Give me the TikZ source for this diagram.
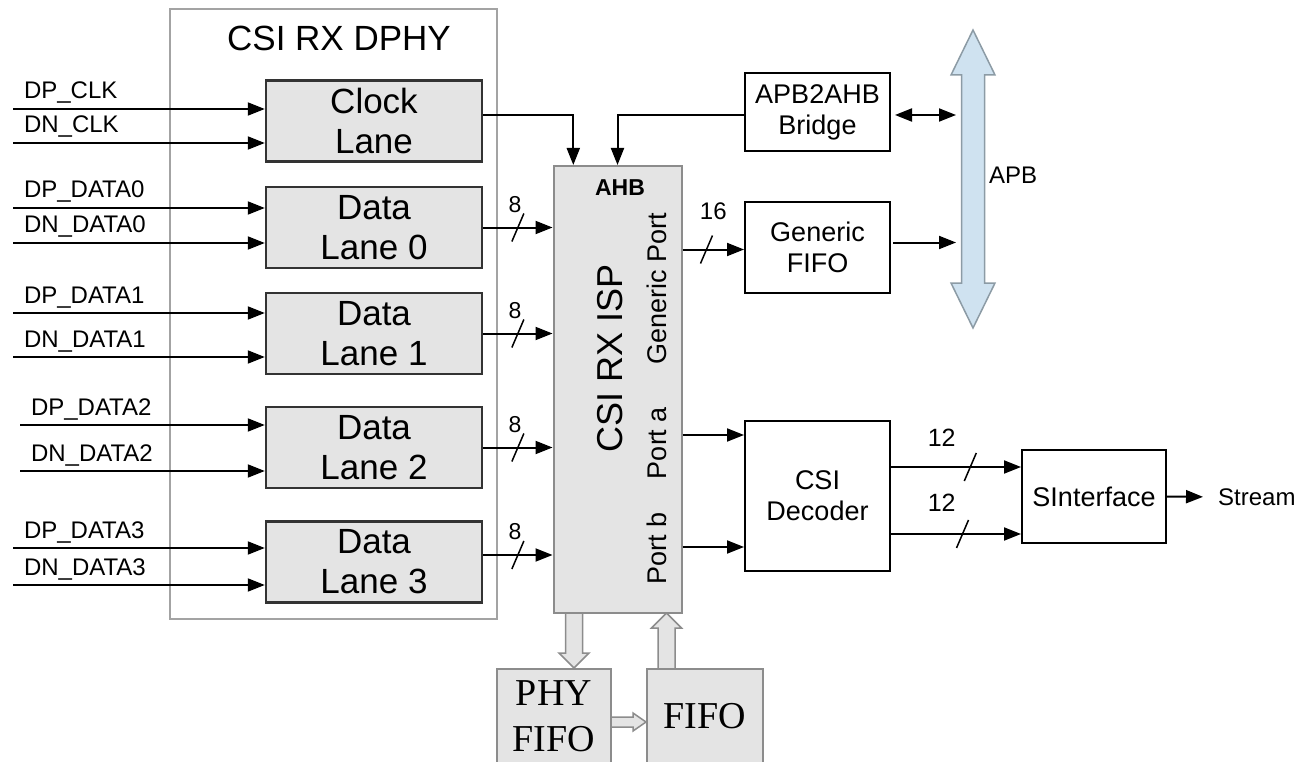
\documentclass[tikz,border=0pt]{standalone}
\usepackage{fontspec}
\setmainfont{Liberation Sans}
\newfontfamily\fifoserif{Liberation Serif}
\usepackage{tikz}
\usetikzlibrary{positioning, arrows.meta, calc, decorations.markings}
\definecolor{apbfill}{RGB}{207,226,240}
\definecolor{apbline}{RGB}{140,155,165}
\definecolor{boxgray}{RGB}{228,228,228}
\definecolor{rimgray}{RGB}{140,140,140}

\begin{document}
\begin{tikzpicture}[
  x=1pt, y=-1pt,
  outer/.style={draw=rimgray!80!white, line width=1.5},
  lane/.style={draw=black!80, fill=boxgray, line width=2.5, minimum width=216, minimum height=81, align=center, inner sep=0, font=\fontsize{35}{40}\selectfont},
  blk/.style={draw, fill=white, line width=2, align=center, inner sep=0, font=\fontsize{27}{31}\selectfont},
  fifo/.style={draw=rimgray, fill=boxgray, line width=2, align=center, inner sep=0, font=\fifoserif\fontsize{38}{46}\selectfont},
  port/.style={rotate=90, inner sep=0, font=\fontsize{27}{30}\selectfont},
  sig/.style={anchor=base west, inner sep=0, xshift=10pt, yshift=10pt, font=\fontsize{24}{26}\selectfont},
  wid/.style={above=#1, inner sep=0, font=\fontsize{23}{25}\selectfont},
  arr/.style={-{Triangle[length=17pt, width=13pt]}, line width=2},
  darr/.style={{Triangle[length=17pt, width=13pt]}-{Triangle[length=17pt, width=13pt]}, line width=2},
  bw/.style={postaction={decorate, decoration={markings, mark=at position #1 with {\draw[-, line width=1.5] (-6pt,-14pt) -- (6pt,14pt);}}}},
  hollow/.style={draw=rimgray, fill=boxgray, line width=1.5, line join=miter},
  bus/.style={draw=apbline, fill=apbfill, line width=1.5}
]
  \useasboundingbox (0,0) rectangle (1314,762);

  % CSI RX DPHY
  \node[outer, minimum width=327, minimum height=610] (dphy) at (333.5,314) {};
  \node[font=\fontsize{35}{40}\selectfont] (dphyt) at (339,38) {CSI RX DPHY};
  \node[lane] (cl) at (374,121) {Clock\\Lane};
  \node[lane] (l0) at (374,227.5) {Data\\Lane 0};
  \node[lane] (l1) at (374,333.5) {Data\\Lane 1};
  \node[lane] (l2) at (374,447.5) {Data\\Lane 2};
  \node[lane] (l3) at (374,562) {Data\\Lane 3};

  % Prazne strelice prema FIFO
  \draw[hollow] (565.5,611) -- (582.5,611) -- (582.5,653) -- (589,653) -- (574,668) -- (559,653) -- (565.5,653) -- cycle;
  \draw[hollow] (658,671) -- (658,628) -- (651.5,628) -- (666.5,613) -- (681.5,628) -- (675,628) -- (675,671) -- cycle;
  \draw[hollow] (609,717) -- (633,717) -- (633,713) -- (646,722) -- (633,731) -- (633,727) -- (609,727) -- cycle;

  % CSI RX ISP
  \node[draw=rimgray, fill=boxgray, line width=2, minimum width=128, minimum height=447] (isp) at (617.5,389.5) {};
  \node[rotate=90, font=\fontsize{36}{40}\selectfont] (ispt) at (610,358) {CSI RX ISP};
  \node[font=\bfseries\fontsize{23}{26}\selectfont] (ahb) at (620,188) {AHB};
  \node[port] (gp) at (657,289) {Generic Port};
  \node[port] (pa) at (657,443) {Port a};
  \node[port] (pb) at (657,548) {Port b};

  % Bloki desno
  \node[blk, minimum width=145, minimum height=78] (br) at (817.5,112) {APB2AHB\\Bridge};
  \node[blk, minimum width=145, minimum height=91] (gf) at (817.5,247.5) {Generic\\FIFO};
  \node[blk, minimum width=145, minimum height=150] (dec) at (817.5,496) {CSI\\Decoder};
  \node[blk, minimum width=144, minimum height=93] (si) at (1094,496.5) {SInterface};
  \node[anchor=west, inner sep=0, font=\fontsize{24}{26}\selectfont] (st) at (1218,497) {Stream};

  % APB sabirnica
  \draw[bus] (973,30) -- (995,75) -- (984.5,75) -- (984.5,283) -- (995,283) -- (973,328)
    -- (951,283) -- (961.5,283) -- (961.5,75) -- (951,75) -- cycle;
  \coordinate (apb) at (973,179);
  \node[font=\fontsize{24}{26}\selectfont] (apbt) at (1013,175) {APB};

  % FIFO dolje
  \node[fifo, minimum width=114, minimum height=94] (phy) at (554,716) {PHY\\FIFO};
  \node[fifo, minimum width=116, minimum height=94] (fifo) at (705,716) {FIFO};

  % Ulazi
  \coordinate (dpclk) at (13,109);
  \coordinate (dnclk) at (13,143);
  \coordinate (dpd0) at (13,208);
  \coordinate (dnd0) at (13,243);
  \coordinate (dpd1) at (13,313);
  \coordinate (dnd1) at (13,357);
  \coordinate (dpd2) at (20,425);
  \coordinate (dnd2) at (20,471);
  \coordinate (dpd3) at (13,548);
  \coordinate (dnd3) at (13,585);
  \draw[arr] (dpclk) -- (dpclk -| cl.west) node[pos=0, sig] {DP\_CLK};
  \draw[arr] (dnclk) -- (dnclk -| cl.west) node[pos=0, sig] {DN\_CLK};
  \draw[arr] (dpd0) -- (dpd0 -| l0.west) node[pos=0, sig] {DP\_DATA0};
  \draw[arr] (dnd0) -- (dnd0 -| l0.west) node[pos=0, sig] {DN\_DATA0};
  \draw[arr] (dpd1) -- (dpd1 -| l1.west) node[pos=0, sig] {DP\_DATA1};
  \draw[arr] (dnd1) -- (dnd1 -| l1.west) node[pos=0, sig] {DN\_DATA1};
  \draw[arr] (dpd2) -- (dpd2 -| l2.west) node[pos=0, sig] {DP\_DATA2};
  \draw[arr] (dnd2) -- (dnd2 -| l2.west) node[pos=0, sig] {DN\_DATA2};
  \draw[arr] (dpd3) -- (dpd3 -| l3.west) node[pos=0, sig] {DP\_DATA3};
  \draw[arr] (dnd3) -- (dnd3 -| l3.west) node[pos=0, sig] {DN\_DATA3};

  % Poveznice
  \draw[arr, bw=.5] (l0.east) -- (l0.east -| isp.west) node[pos=.46, wid=14pt] {8};
  \draw[arr, bw=.5] (l1.east) -- (l1.east -| isp.west) node[pos=.46, wid=14pt] {8};
  \draw[arr, bw=.5] (l2.east) -- (l2.east -| isp.west) node[pos=.46, wid=14pt] {8};
  \draw[arr, bw=.5] ([yshift=7pt]l3.east) -- ([yshift=7pt]l3.east -| isp.west) node[pos=.46, wid=14pt] {8};
  \draw[arr] ([yshift=6pt]cl.east) -| ($(isp.north west)!.16!(isp.north east)$);
  \draw[arr] ([yshift=-3pt]br.west) -| (isp.north);
  \draw[darr, shorten <=4, shorten >=17] ([yshift=-3pt]br.east) -- ([yshift=-3pt]br.east -| apb);
  \draw[arr, shorten <=2, shorten >=17] ([yshift=5pt]gf.east) -- ([yshift=5pt]gf.east -| apb);
  \draw[arr, bw=.39] ([yshift=-2pt]gf.west -| isp.east) -- ([yshift=-2pt]gf.west) node[pos=.5, wid=29pt, font=\fontsize{24}{26}\selectfont] {16};
  \draw[arr] ([yshift=61pt]dec.west -| isp.east) -- ([yshift=61pt]dec.west);
  \draw[arr] ([yshift=-51pt]dec.west -| isp.east) -- ([yshift=-51pt]dec.west);
  \draw[arr, bw=.61] ([yshift=29pt]dec.east) -- ([yshift=29pt]dec.east -| si.west) node[pos=.39, wid=20pt, font=\fontsize{25}{27}\selectfont] {12};
  \draw[arr, bw=.55] ([yshift=-38pt]dec.east) -- ([yshift=-38pt]dec.east -| si.west) node[pos=.39, wid=22pt, font=\fontsize{25}{27}\selectfont] {12};
  \draw[arr, shorten >=15] (si.east) -- (st.west);
\end{tikzpicture}
\end{document}
